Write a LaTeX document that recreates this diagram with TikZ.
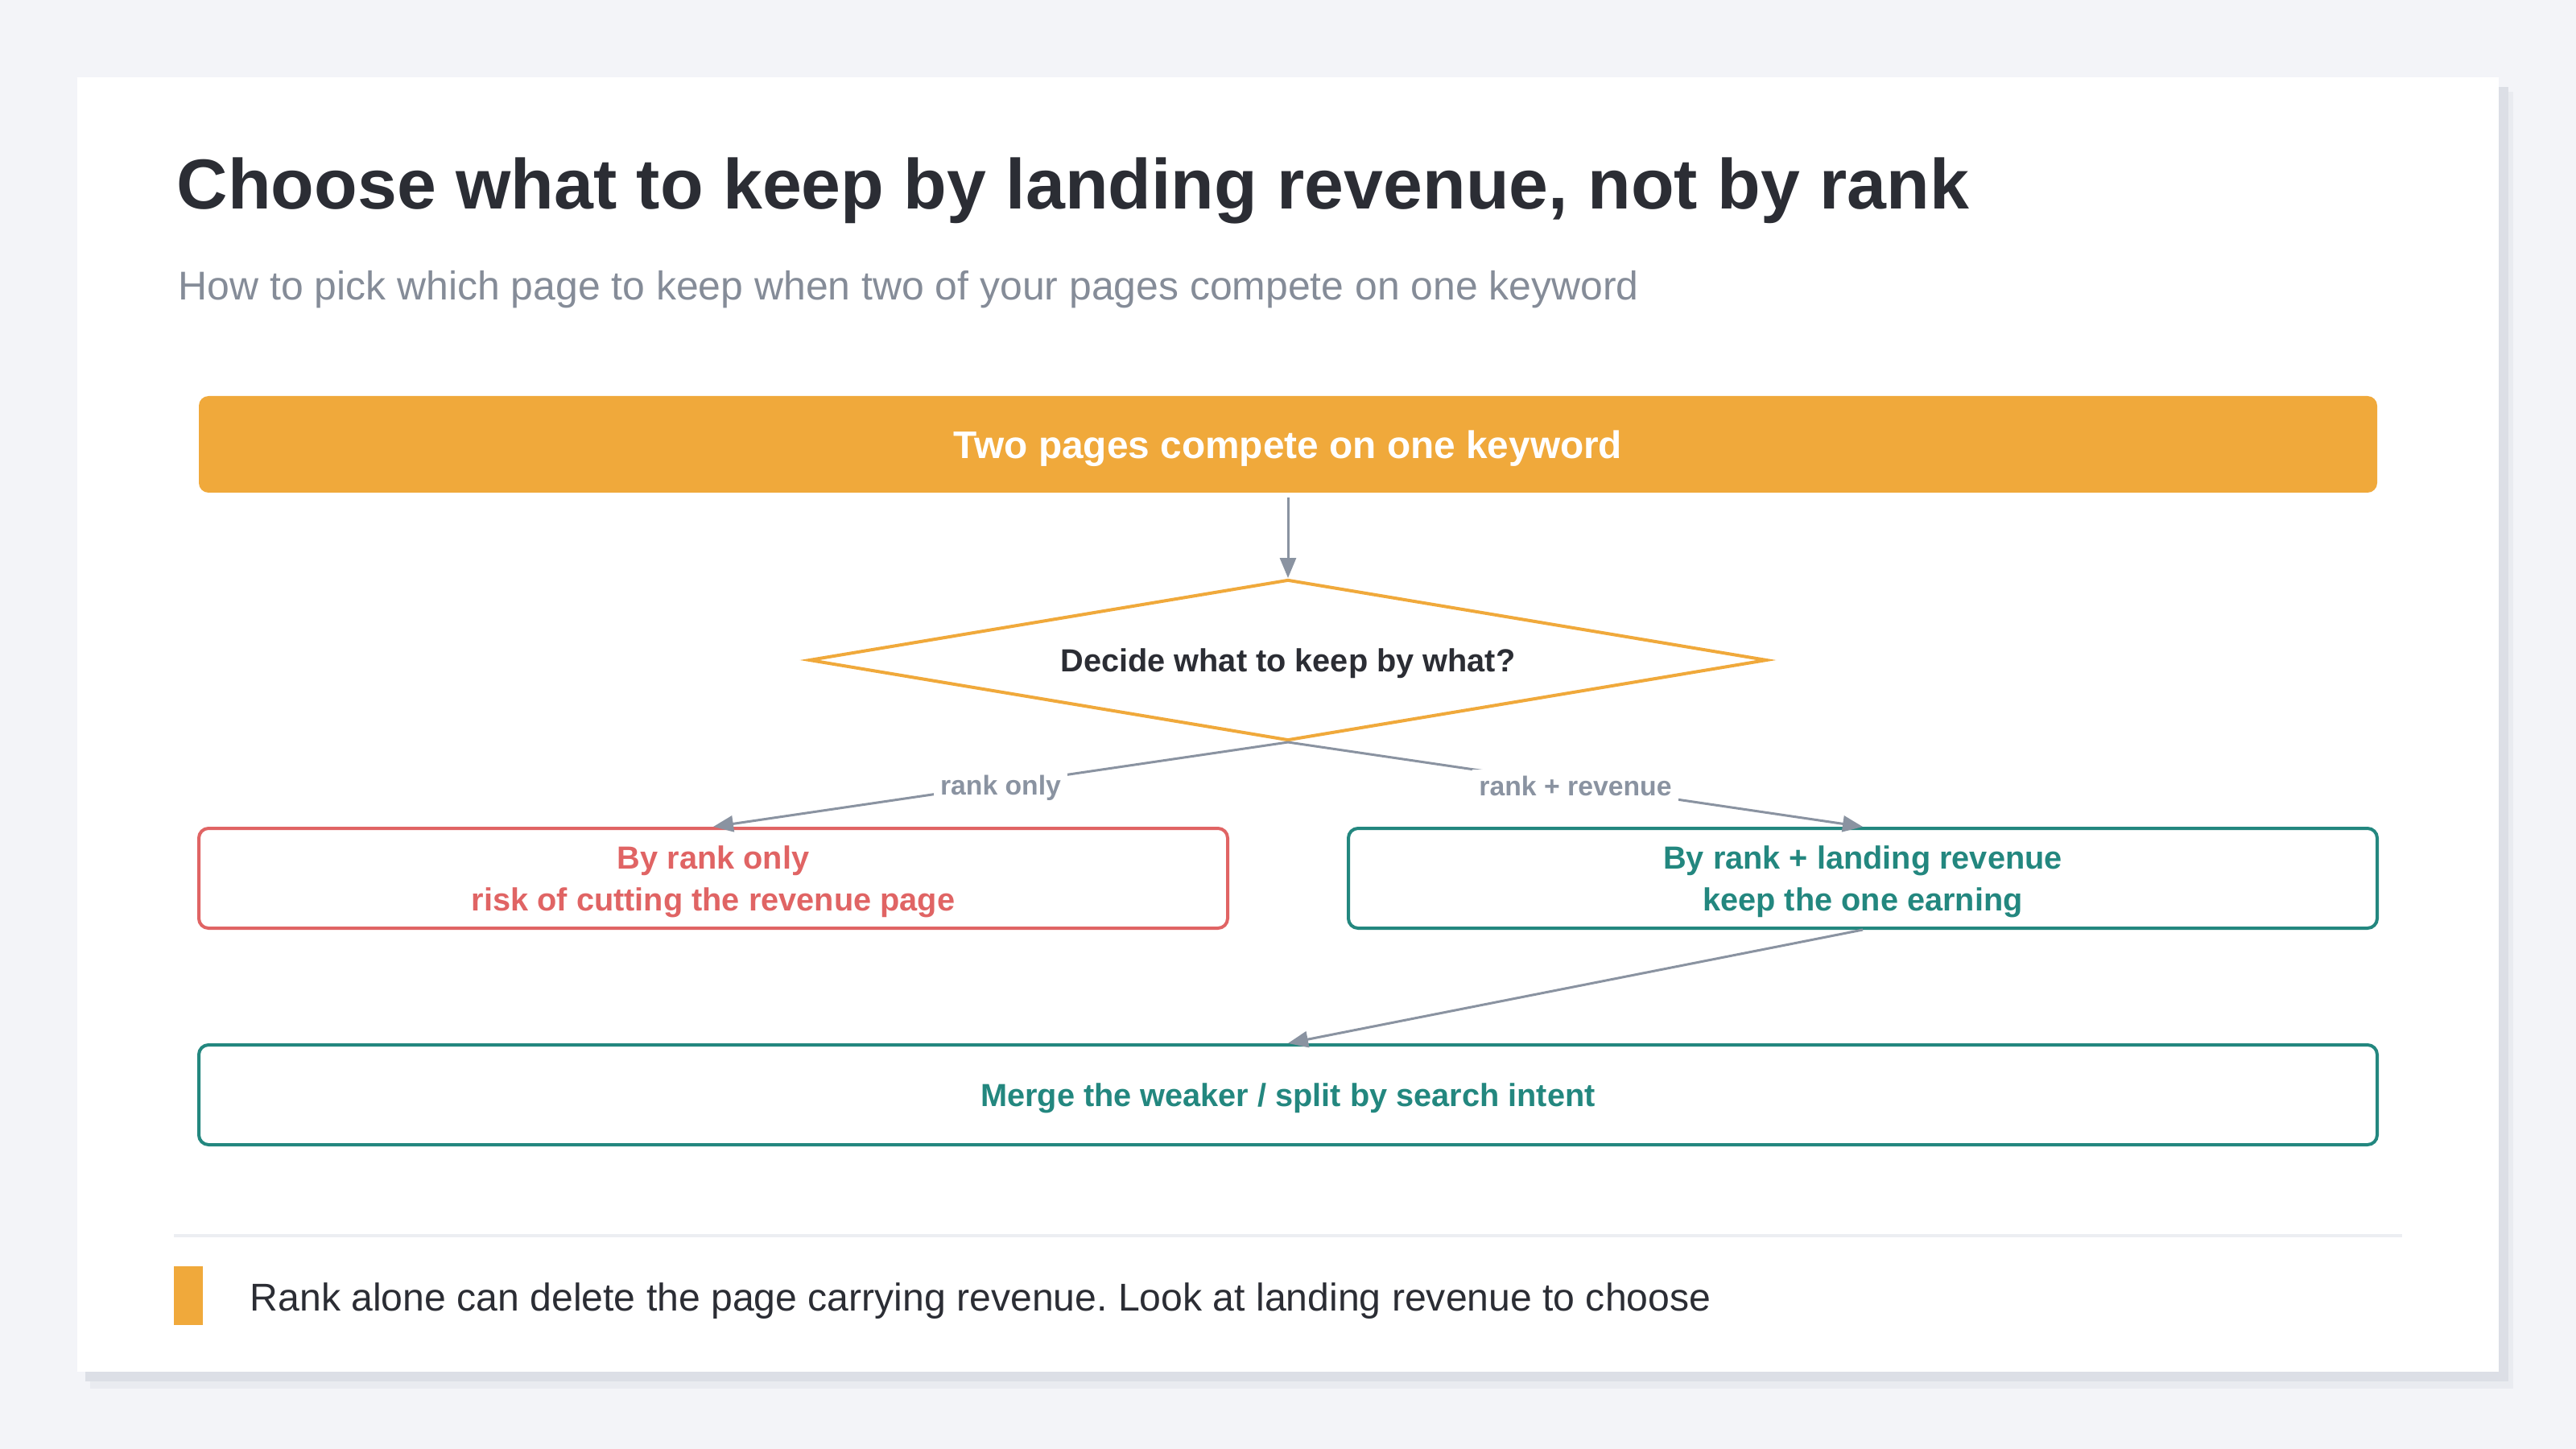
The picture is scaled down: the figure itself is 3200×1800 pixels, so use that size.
\documentclass[tikz,border=0pt]{standalone}
\usepackage{fontspec}
\setmainfont{Liberation Sans}
\usetikzlibrary{shapes.geometric}
\usetikzlibrary{arrows.meta}
\definecolor{pagebg}{HTML}{F3F4F8}
\definecolor{shadowA}{HTML}{DCDFE6}
\definecolor{shadowB}{HTML}{E9EBF0}
\definecolor{inkdark}{HTML}{2B2D34}
\definecolor{inkgray}{HTML}{858C98}
\definecolor{amber}{HTML}{F0A93B}
\definecolor{alertred}{HTML}{E06464}
\definecolor{tealok}{HTML}{23877F}
\definecolor{linkgray}{HTML}{8A93A1}
\definecolor{rulegray}{HTML}{ECEEF2}
\frenchspacing
\tikzset{
  >={Triangle[length=2.5mm,width=2.0mm]},
  %tiny/.style={font=\fontsize{8}{9}\selectfont},
  flowbar/.style={fill=amber,rounded corners=1.2mm,minimum width=270.6mm,
    minimum height=12mm,text=white,text depth=0pt,
    font=\bfseries\fontsize{13.6}{16}\selectfont},
  choice/.style={diamond,draw=amber,line width=0.4mm,fill=white,aspect=5.95,
    minimum width=119mm,minimum height=20mm,inner sep=0pt,text=inkdark,
    text depth=0pt,font=\bfseries\fontsize{11.3}{13}\selectfont},
  outbox/.style={rounded corners=1.2mm,line width=0.4mm,fill=white,
    minimum height=12.4mm,align=center,text depth=0pt,
    font=\bfseries\fontsize{11.3}{15}\selectfont},
  riskbox/.style={outbox,draw=alertred,text=alertred,minimum width=127.8mm},
  keepbox/.style={outbox,draw=tealok,text=tealok,minimum width=127.8mm},
  link/.style={->,draw=linkgray,line width=0.3mm},
  linklabel/.style={fill=white,text=linkgray,inner sep=0.8mm,
    font=\bfseries\fontsize{9.6}{11}\selectfont}
}
\begin{document}
\begin{tikzpicture}[x=0.1mm,y=-0.1mm]
  % page, card and its shadow
  \fill[pagebg] (0,0) rectangle (3200,1800);
  \useasboundingbox (0,0) rectangle (3200,1800);
  \fill[shadowB] (112,114) rectangle (3122,1725);
  \fill[shadowA] (106,108) rectangle (3116,1716);
  \fill[white] (96,96) rectangle (3104,1704);
  % heading
  \node (ttl) at (219,260) [anchor=base west,inner sep=0pt,text=inkdark,
    font=\bfseries\fontsize{25}{30}\selectfont] {Choose what to keep by landing revenue, not by rank};
  \node (sub) at (221,373) [anchor=base west,inner sep=0pt,text=inkgray,
    font=\fontsize{14.2}{17}\selectfont] {How to pick which page to keep when two of your pages compete on one keyword};
  % flow
  \node (bar) at (1600,552) [flowbar] {Two pages compete on one keyword};
  \node (dec) at (1600,820) [choice] {Decide what to keep by what?};
  \node (rk)  at (886,1091) [riskbox] {By rank only\\risk of cutting the revenue page};
  \node (rev) at (2314,1091) [keepbox] {By rank + landing revenue\\keep the one earning};
  \node (mrg) at (1600,1360) [keepbox,minimum width=270.6mm] {Merge the weaker / split by search intent};
  \draw[link,shorten <=0.5mm] (bar) -- (dec);
  \draw[link] (dec.south) -- node[linklabel,yshift=-0.4mm] {rank only} (rk.north);
  \draw[link] (dec.south) -- node[linklabel,yshift=-0.2mm] {rank + revenue} (rev.north);
  \draw[link] (rev.south) -- (mrg.north);
  % footer
  \draw (216,1535) -- (2984,1535) [rulegray,line width=0.4mm];
  \fill[amber] (216,1573) rectangle (252,1646);
  \node (note) at (310,1628) [anchor=base west,inner sep=0pt,text=inkdark,
    font=\fontsize{13.7}{16}\selectfont] {Rank alone can delete the page carrying revenue. Look at landing revenue to choose};
\end{tikzpicture}
\end{document}
